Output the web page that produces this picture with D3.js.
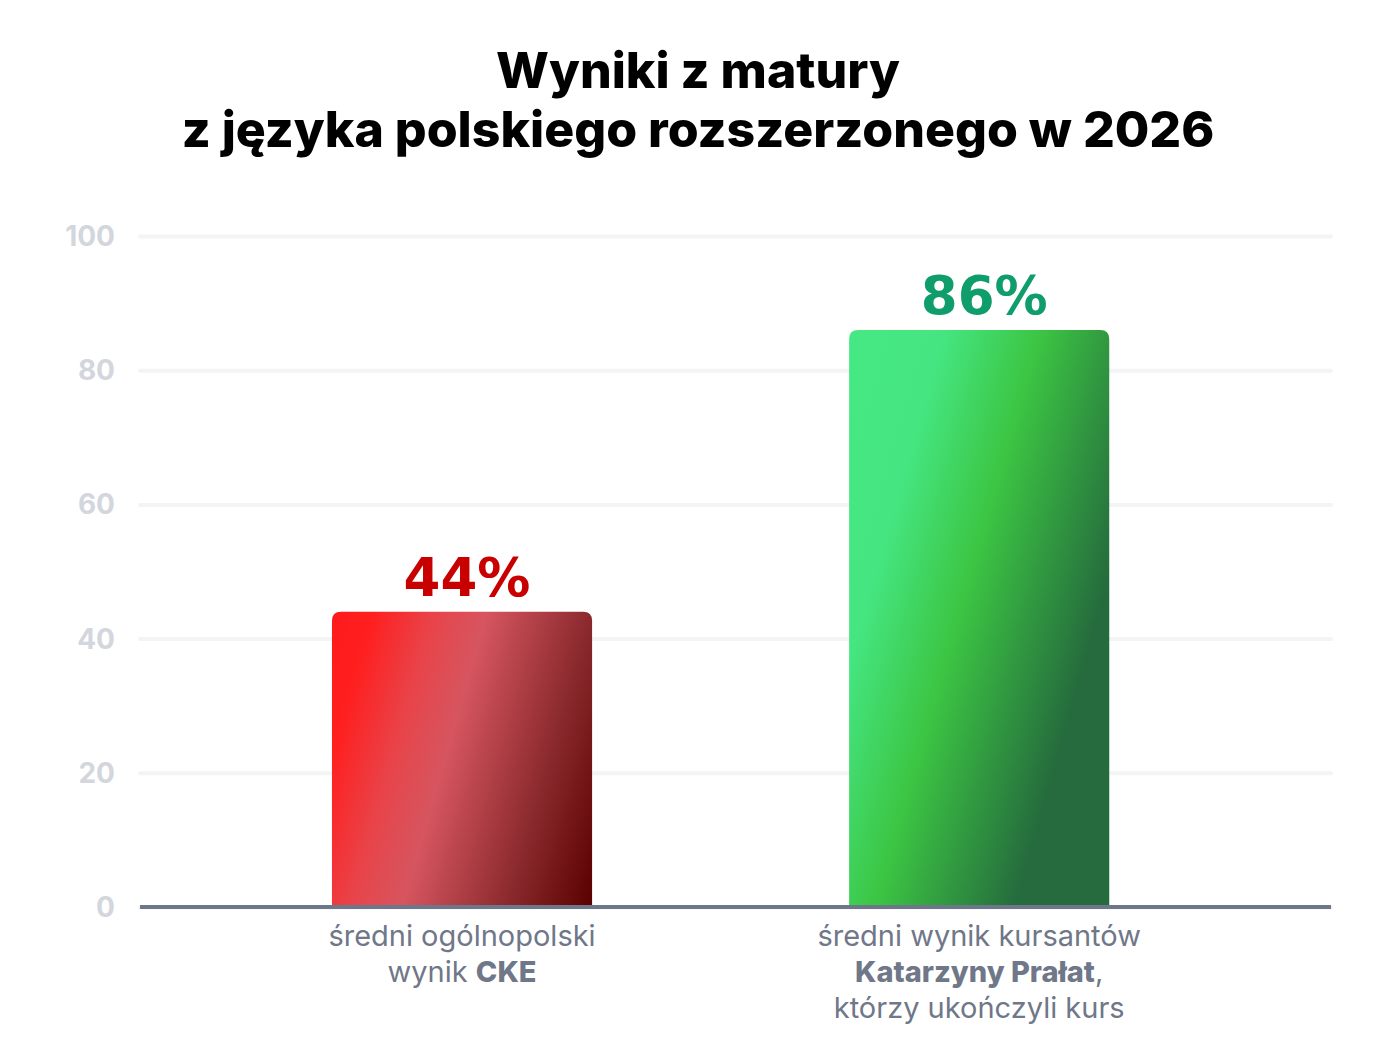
<!DOCTYPE html>
<html>
<head>
	<meta charset="utf-8">
	<title>Wyniki z matury</title>
</head>
<style type="text/css">
	html, body {margin:0px; padding:0px; background:#fff;}
	svg {display:block;}
</style>
<body>

	<svg></svg>

<script src="https://d3js.org/d3.v7.min.js"></script>
<script type="text/javascript">

	// data
	const titleLines = ['Wyniki z matury', 'z języka polskiego rozszerzonego w 2026'];
	const categories = ['cke', 'kursanci'];
	const values = [44, 86];
	const valueLabels = ['44%', '86%'];
	const yTicks = [0, 20, 40, 60, 80, 100];
	// each line is a list of [text, bold]
	const categoryLabels = [
		[
			[['średni ogólnopolski', false]],
			[['wynik ', false], ['CKE', true]]
		],
		[
			[['średni wynik kursantów', false]],
			[['Katarzyny Prałat', true], [',', false]],
			[['którzy ukończyli kurs', false]]
		]
	];
	const labelColors = ['#c80000', '#0f9d6c'];
	// gradient stops per bar
	const barStops = [
		[[0, '#ff1a1a'], [0.12, '#ff1f1f'], [0.3, '#e8444a'], [0.45, '#d6555f'], [0.75, '#8b2a2e'], [1, '#5a0000']],
		[[0, '#46e883'], [0.22, '#45e682'], [0.45, '#3cc543'], [0.78, '#256b3d'], [1, '#256b3d']]
	];

	const width = 1388, height = 1063;
	const svg = d3.select('svg').attr('width', width).attr('height', height);

	const x = d3.scaleBand()
		.domain(categories)
		.range([140, 1331])
		.paddingInner(0.497)
		.paddingOuter(0.4)
		.align(0.464);

	const y = d3.scaleLinear().domain([0, 100]).range([907, 236]);

	// title
	svg.append('text')
		.attr('x', 698)
		.attr('font-family', 'Inter, sans-serif')
		.attr('font-weight', 800)
		.attr('font-size', 50)
		.attr('fill', '#000')
		.attr('text-anchor', 'middle')
		.selectAll('tspan')
		.data(titleLines)
		.enter().append('tspan')
		.attr('x', 698)
		.attr('y', function(d, i) { return 88 + i * 59; })
		.text(function(d) { return d; });

	// grid
	const grid = svg.append('g')
		.attr('transform', 'translate(140,0)')
		.call(d3.axisLeft(y).tickValues(yTicks).tickSize(-1191).tickFormat(''));
	grid.select('.domain').remove();
	grid.selectAll('line')
		.attr('stroke', '#f3f4f6')
		.attr('stroke-width', 4)
		.attr('stroke-linecap', 'round');

	// tick labels
	svg.append('g').selectAll('text')
		.data(yTicks)
		.enter().append('text')
		.attr('x', 115)
		.attr('y', function(d) { return y(d) + 10; })
		.attr('text-anchor', 'end')
		.attr('font-family', 'Inter, sans-serif')
		.attr('font-weight', 700)
		.attr('font-size', 28)
		.attr('fill', '#d3d6dd')
		.text(function(d) { return d; });

	// gradients
	const defs = svg.append('defs');
	const ang = 16 * Math.PI / 180;
	categories.forEach(function(c, i) {
		const x0 = x(c), y0 = y(values[i]);
		const w = x.bandwidth(), h = y(0) - y0;
		const len = w * Math.cos(ang) + h * Math.sin(ang);
		const g = defs.append('linearGradient')
			.attr('id', 'grad' + i)
			.attr('gradientUnits', 'userSpaceOnUse')
			.attr('x1', x0).attr('y1', y0)
			.attr('x2', x0 + len * Math.cos(ang))
			.attr('y2', y0 + len * Math.sin(ang));
		barStops[i].forEach(function(s) {
			g.append('stop').attr('offset', s[0]).attr('stop-color', s[1]);
		});
	});

	// bars with rounded top corners
	function barPath(d, i) {
		const x0 = x(categories[i]), w = x.bandwidth();
		const top = y(d), bot = y(0), r = 9;
		return 'M' + x0 + ',' + bot +
			'V' + (top + r) +
			'Q' + x0 + ',' + top + ' ' + (x0 + r) + ',' + top +
			'H' + (x0 + w - r) +
			'Q' + (x0 + w) + ',' + top + ' ' + (x0 + w) + ',' + (top + r) +
			'V' + bot + 'Z';
	}

	svg.append('g').selectAll('path')
		.data(values)
		.enter().append('path')
		.attr('d', barPath)
		.attr('fill', function(d, i) { return 'url(#grad' + i + ')'; });

	// value labels
	svg.append('g').selectAll('text')
		.data(values)
		.enter().append('text')
		.attr('x', function(d, i) { return x(categories[i]) + x.bandwidth() / 2 + 5; })
		.attr('y', function(d) { return y(d) - 16; })
		.attr('text-anchor', 'middle')
		.attr('font-family', '"DejaVu Sans", sans-serif')
		.attr('font-weight', 700)
		.attr('font-size', 53)
		.attr('fill', function(d, i) { return labelColors[i]; })
		.text(function(d, i) { return valueLabels[i]; });

	// baseline
	svg.append('line')
		.attr('x1', 140).attr('x2', 1331)
		.attr('y1', y(0)).attr('y2', y(0))
		.attr('stroke', '#6e7789')
		.attr('stroke-width', 4);

	// category labels
	categories.forEach(function(c, i) {
		const cx = x(c) + x.bandwidth() / 2;
		const t = svg.append('text')
			.attr('text-anchor', 'middle')
			.attr('font-family', 'Inter, sans-serif')
			.attr('font-size', 29)
			.attr('fill', '#6f7789');
		categoryLabels[i].forEach(function(line, li) {
			line.forEach(function(seg, si) {
				const ts = t.append('tspan')
					.attr('font-weight', seg[1] ? 800 : 400)
					.text(seg[0]);
				if (si === 0) ts.attr('x', cx).attr('y', 946 + li * 36);
			});
		});
	});

</script>
</body>
</html>
